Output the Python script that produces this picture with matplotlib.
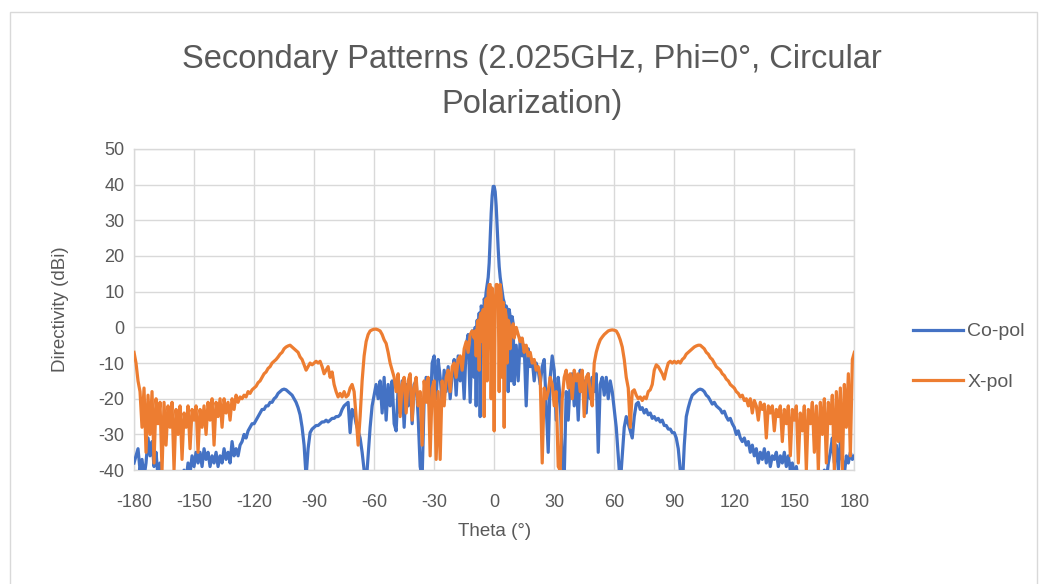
import numpy as np
import matplotlib
matplotlib.use("Agg")
import matplotlib.pyplot as plt
from matplotlib.patches import Rectangle

# ---------------- data ----------------
theta_left = list(range(-180, -10))            # -180 .. -11, 1 deg
theta_center = [x / 2 for x in range(-20, 21)] # -10 .. 10, 0.5 deg
theta_right = list(range(11, 181))             # 11 .. 180, 1 deg

copol_left = [
    -38, -36, -34, -40, -37, -42, -38, -31, -36, -32,
    -39, -35, -42, -38, -45, -41, -45, -42, -46, -43,
    -45, -41, -44, -42, -45, -40, -43, -38, -41, -36,
    -39, -35, -38, -35, -39, -34, -37, -35, -39, -36,
    -38, -35, -39, -36, -38, -34, -37, -35, -38, -32,
    -36, -34, -36, -33, -32, -30, -31, -29, -28, -27,
    -27, -26, -25, -24, -23, -23, -22, -22, -21, -21,
    -20, -19.5, -18.5, -18, -17.5, -17.3, -17.5, -18, -18.5, -19,
    -20, -21, -22.5, -24.5, -28, -33, -42, -34, -29.5, -28.5,
    -28, -27.5, -27.5, -27, -26.5, -26.5, -26, -26.5, -26, -25.5,
    -25.5, -25, -25, -24.5, -23, -22, -21.5, -21, -29.5, -23,
    -24, -27, -29, -31, -35, -40, -44, -36, -28, -22,
    -19, -16, -20, -15, -24, -14, -26, -16, -22, -15,
    -27, -29, -17, -24, -15, -28, -16, -22, -14, -27,
    -16, -15, -25, -39, -42, -20, -14, -18, -24, -10,
    -8, -20, -9, -14, -21, -12, -18, -11, -20, -13,
    -9, -19, -8, -15, -9, -20, -5, -2, -21, -1,
]
copol_center = [
    -14, 0, -22, 2, -10, 4, -25, 6, 5, -8,
    8, 7, 10, 12, 14, 18, 25, 32, 37, 39.5,
    39.5, 38, 34, 28, 22, 17, 14, 12, 10, 8,
    7, -10, 6, 5, -18, 5, 3, -15, 3, 1,
    -16,
]
copol_right = [
    -5, -15, -3, -8, -5, -22, -6, -11, -9, -15,
    -10, -12, -16, -11, -9, -22, -35, -14, -8, -12,
    -26, -14, -20, -38, -42, -18, -26, -15, -13, -22,
    -14, -26, -12, -18, -15, -24, -13, -20, -14, -18,
    -13, -35, -16, -14, -19, -14, -20, -15, -18, -23,
    -28, -36, -44, -36, -28, -25, -27, -29, -31, -25,
    -21.5, -21, -23, -22.5, -24, -23, -24.5, -24, -25.5, -25,
    -26, -25.5, -26.5, -26, -27.5, -27.5, -28.5, -28.5, -29.5, -29.5,
    -31, -34, -40, -45, -33, -25, -22.5, -20.5, -19, -18.5,
    -18, -17.5, -17.3, -17.5, -18, -19, -19.5, -20.5, -21.5, -21,
    -22, -22.5, -23, -24, -23.5, -25, -26, -25.5, -27, -28,
    -30, -29, -31, -32, -31, -33, -32, -35, -33, -36,
    -34, -38, -35, -37, -34, -38, -35, -39, -36, -37,
    -35, -39, -36, -38, -35, -39, -36, -40, -38, -42,
    -39, -43, -41, -45, -42, -45, -43, -46, -42, -45,
    -43, -46, -41, -44, -40, -43, -38, -35, -31, -38,
    -33, -40, -32, -37, -41, -36, -38, -35, -37, -36,
]

xpol_left = [
    -7, -10, -15, -18, -28, -17, -35, -19, -30, -18,
    -38, -20, -27, -21, -40, -21, -33, -22, -28, -21,
    -40, -23, -30, -22, -37, -24, -28, -22, -34, -23,
    -26, -22, -35, -23, -28, -22, -30, -21, -26, -20,
    -33, -21, -25, -20, -28, -20, -24, -21, -26, -20,
    -23, -19, -21, -19.5, -20, -19, -19.5, -18, -18.5, -17.5,
    -17, -16.5, -15.5, -15, -14, -13, -12.5, -11.5, -11, -10,
    -9.5, -9, -8.3, -7.5, -7, -6, -5.5, -5.2, -5, -5.5,
    -6, -6.5, -7, -8.3, -9, -10.5, -12, -11, -10, -10.5,
    -10, -9.5, -10, -9.5, -11, -13, -12, -11, -14, -12.5,
    -16, -18, -19.5, -18.5, -19.5, -18, -19.5, -19, -17, -16,
    -18, -25, -33, -25, -15, -8, -4, -2, -1, -0.7,
    -0.5, -0.5, -0.7, -1, -2, -3.5, -4.5, -7, -10, -12,
    -14, -18, -13, -25, -16, -14, -24, -15, -13, -26,
    -17, -14, -22, -18, -33, -15, -21, -14, -36, -17,
    -15, -37, -18, -37, -15, -22, -14, -12, -18, -11,
    -10, -14, -9, -8, -12, -6, -4, -7, -2, -1,
]
xpol_center = [
    -3, -1, -8, 0, 2, -12, 3, 4, -4, 5,
    -25, 6, 8, -15, 10, 12, 12, -20, 11, 5,
    -29, 6, 12, 12, 11, -18, 12, 9, -14, 7,
    -28, 5, 3, -10, 2, 1, -6, 0, -2, 1,
    -3,
]
xpol_right = [
    0, -2, -4, -3, -7, -5, -8, -7, -10, -9,
    -12, -11, -14, -38, -17, -20, -18, -14, -16, -22,
    -18, -39, -40, -20, -14, -12, -17, -13, -20, -12,
    -15, -13, -18, -12, -25, -14, -13, -18, -22, -10,
    -7, -5, -3.5, -2.7, -2, -1.5, -1, -0.8, -0.7, -0.8,
    -1, -2, -3.5, -5.5, -9, -14, -17, -28, -18, -17.5,
    -19, -20, -19.5, -20.5, -19.5, -20, -18, -17.5, -16, -12,
    -10.5, -11, -12, -13, -14.5, -12, -10, -9.5, -10, -9.5,
    -10, -9.5, -10, -9, -8.5, -7.5, -7, -6.5, -6, -5.5,
    -5.2, -5, -5, -5.5, -6, -7, -7.5, -8.5, -9, -10,
    -11, -11.5, -12, -13, -13.5, -14.5, -15, -16, -16.5, -17,
    -18, -18.5, -19.5, -19, -20.5, -20, -22, -20, -24, -20.5,
    -22, -26, -21, -23, -21.5, -31, -22, -24, -22, -29,
    -23, -25, -22, -32, -23, -27, -22, -36, -23, -26,
    -22, -38, -24, -29, -22, -40, -23, -27, -21, -35,
    -22, -40, -21, -30, -20, -38, -21, -27, -19, -40,
    -18, -32, -17, -40, -16, -28, -13, -36, -9, -7,
]

x_ticks = [-180, -150, -120, -90, -60, -30, 0, 30, 60, 90, 120, 150, 180]
y_ticks = [-40, -30, -20, -10, 0, 10, 20, 30, 40, 50]
series_names = ["Co-pol", "X-pol"]
title_text = "Secondary Patterns (2.025GHz, Phi=0°, Circular\nPolarization)"
x_label = "Theta (°)"
y_label = "Directivity (dBi)"

# ---------------- plot ----------------
theta = np.array(theta_left + theta_center + theta_right, dtype=float)
copol = np.array(copol_left + copol_center + copol_right, dtype=float)
xpol = np.array(xpol_left + xpol_center + xpol_right, dtype=float)

plt.rcParams["font.family"] = ["Liberation Sans", "DejaVu Sans"]
plt.rcParams["axes.unicode_minus"] = False
text_color = "#595959"
grid_color = "#D9D9D9"

fig = plt.figure(figsize=(10.47, 5.84), dpi=100)
fig.patch.set_facecolor("white")
fig.patches.append(Rectangle((0.010, -0.01), 0.980, 0.99, transform=fig.transFigure,
                             fill=False, edgecolor="#D9D9D9", linewidth=1.0))

ax = fig.add_axes([0.128, 0.195, 0.688, 0.550])
ax.plot(theta, copol, color="#4472C4", linewidth=2.3, label=series_names[0],
        solid_joinstyle="round", zorder=3)
ax.plot(theta, xpol, color="#ED7D31", linewidth=2.3, label=series_names[1],
        solid_joinstyle="round", zorder=4)

ax.set_xlim(-180, 180)
ax.set_ylim(-40, 50)
ax.set_xticks(x_ticks)
ax.set_yticks(y_ticks)
ax.grid(True, color=grid_color, linewidth=1.0)
ax.set_axisbelow(True)
for s in ax.spines.values():
    s.set_color(grid_color)
    s.set_linewidth(1.0)
ax.tick_params(length=0, labelsize=13, colors=text_color)
ax.tick_params(axis="x", pad=17)
ax.tick_params(axis="y", pad=7)

ax.set_xlabel(x_label, fontsize=13.5, color=text_color, labelpad=9)
ax.set_ylabel(y_label, fontsize=13.5, color=text_color, labelpad=21)

fig.text(0.508, 0.860, title_text, ha="center", va="center", fontsize=23.5,
         color=text_color, linespacing=1.59)

leg = ax.legend(loc="center left", bbox_to_anchor=(1.081, 0.353), frameon=False,
                fontsize=14, handlelength=2.6, handletextpad=0.2,
                labelspacing=1.68, borderaxespad=0, borderpad=0)
for t in leg.get_texts():
    t.set_color(text_color)

fig.savefig("out.png", dpi=100, facecolor="white")
